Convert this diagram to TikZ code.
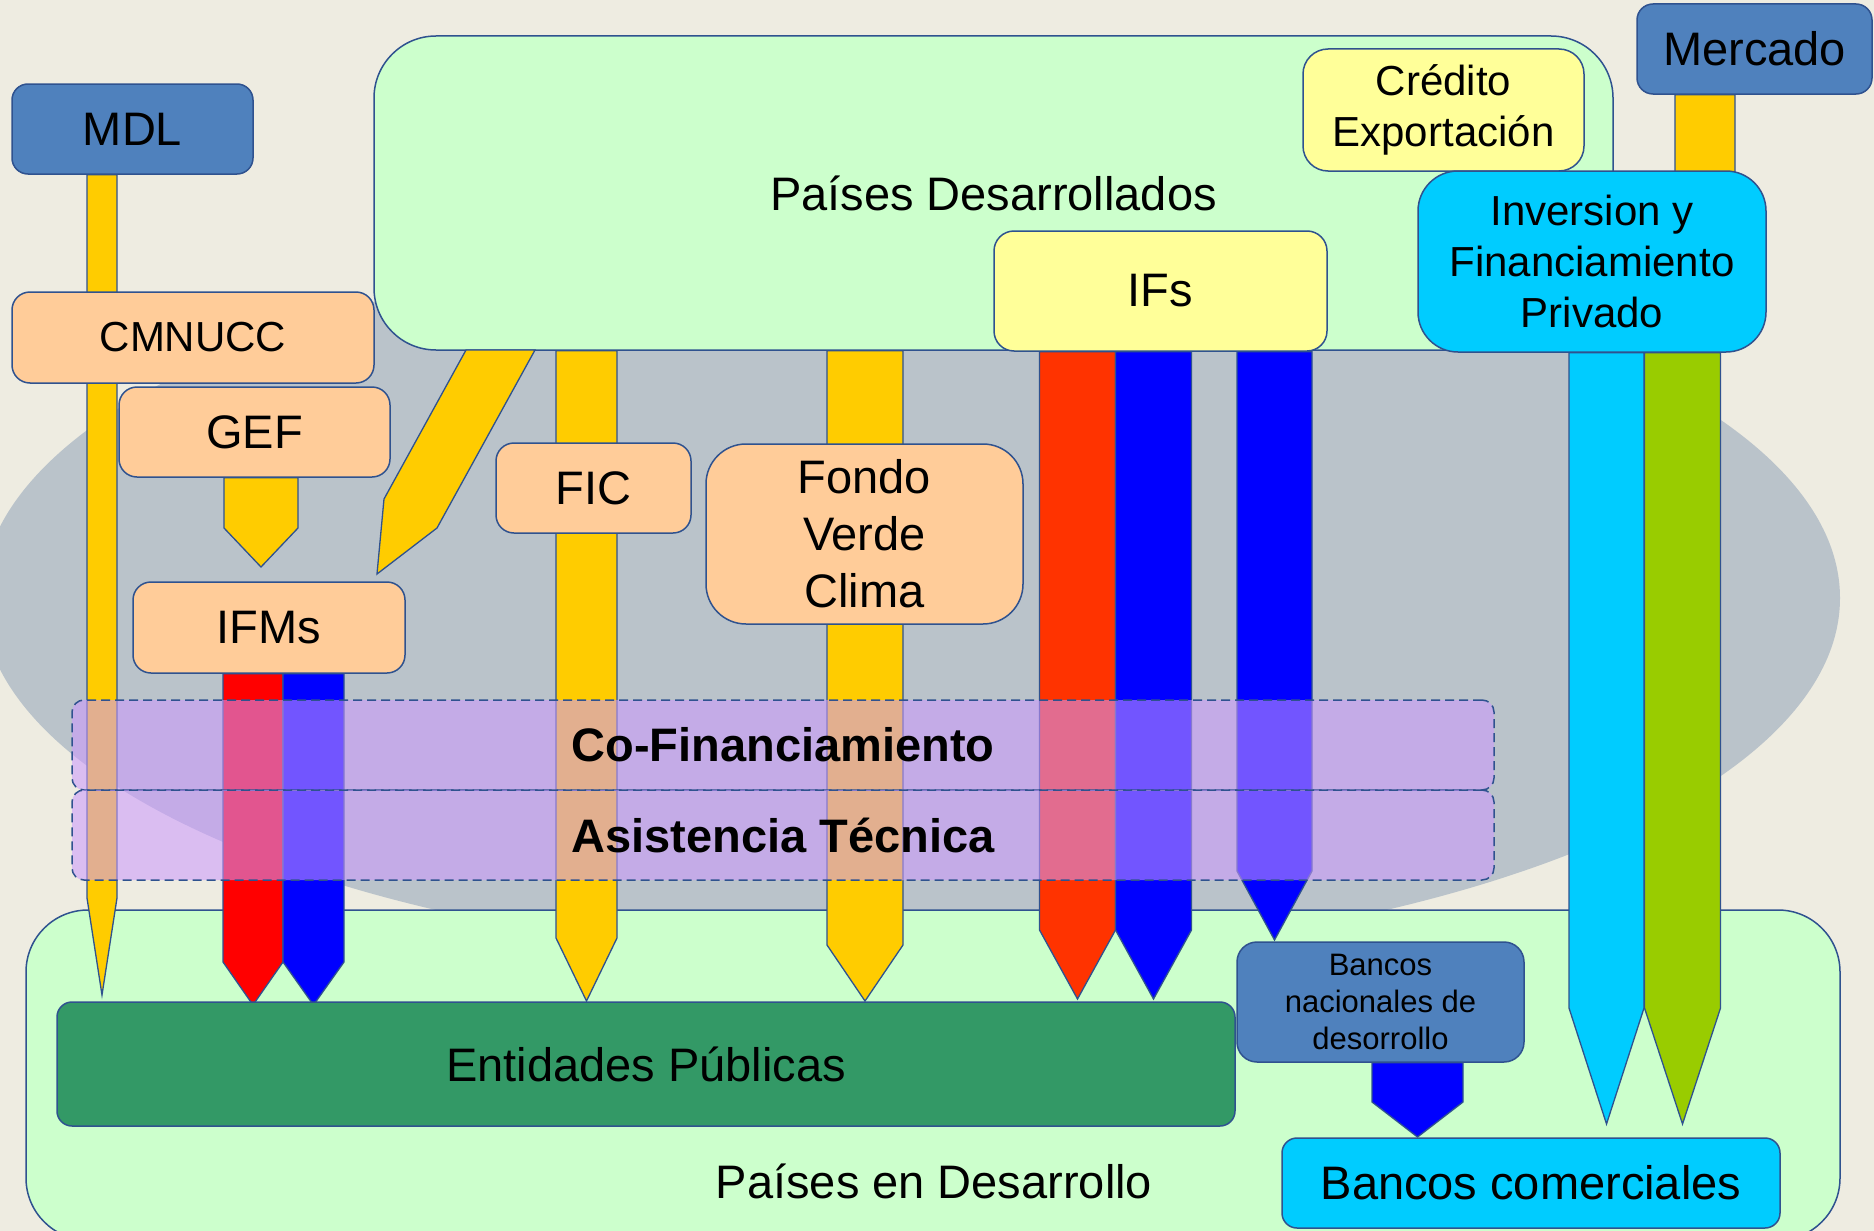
\documentclass[tikz,border=0pt]{standalone}
\usepackage{fontspec}
\setmainfont{Liberation Sans}
\usepackage{tikz}
\usetikzlibrary{shapes.geometric, arrows, positioning, calc, backgrounds}
\usepackage{xcolor}

\definecolor{bgtan}{HTML}{EEECE1}
\definecolor{ovalgrey}{HTML}{BAC3CA}
\definecolor{panelgreen}{HTML}{CCFFCC}
\definecolor{edgeblue}{HTML}{2F528F}
\definecolor{steelblue}{HTML}{4F81BD}
\definecolor{peach}{HTML}{FFCC99}
\definecolor{paleyellow}{HTML}{FFFF99}
\definecolor{skyblue}{HTML}{00CCFF}
\definecolor{flowyellow}{HTML}{FFCC00}
\definecolor{seagreen}{HTML}{339966}
\definecolor{flowred}{HTML}{FF0000}
\definecolor{flowscarlet}{HTML}{FF3300}
\definecolor{flowblue}{HTML}{0000FF}
\definecolor{flowlime}{HTML}{99CC00}
\definecolor{bandviolet}{HTML}{CC99FF}

\tikzstyle{panel} = [rectangle, rounded corners=62pt, draw=edgeblue, line width=1.5pt, fill=panelgreen, inner sep=0pt, font=\fontsize{47}{56}\selectfont]
\tikzstyle{paneltext} = [inner sep=0pt, font=\fontsize{47}{56}\selectfont]
\tikzstyle{box} = [rectangle, rounded corners=16pt, draw=edgeblue, line width=1.5pt, inner sep=0pt, align=center, font=\fontsize{47}{57}\selectfont]
\tikzstyle{midbox} = [box, font=\fontsize{42}{51}\selectfont]
\tikzstyle{smallbox} = [box, font=\fontsize{31}{37}\selectfont]
\tikzstyle{band} = [rectangle, rounded corners=12pt, draw=edgeblue, line width=1.5pt, dash pattern=on 9pt off 5pt, fill=bandviolet, fill opacity=0.56, text opacity=1, inner sep=0pt, font=\fontsize{47}{56}\selectfont\bfseries]
\tikzstyle{flowline} = [draw=edgeblue, line width=1.3pt]

% pencil shaped flow: colour, top centre, tip, half width, head length
\newcommand{\flowarrow}[5]{%
  \filldraw[flowline, fill=#1] ($(#2)+(-#4,0)$) -- ($(#2)+(#4,0)$) -- ($(#3)+(#4,-#5)$) -- (#3) -- ($(#3)+(-#4,-#5)$) -- cycle;}

\pgfdeclarelayer{flows}
\pgfsetlayers{background,flows,main}

\begin{document}
\begin{tikzpicture}[x=1pt, y=-1pt]
\useasboundingbox (0,0) rectangle (1874,1231);

% Sources
\node (mdl) [box, fill=steelblue, minimum width=241pt, minimum height=90pt] at (132.5,129) {MDL};
\node (mercado) [box, fill=steelblue, minimum width=235pt, minimum height=90pt] at (1754.5,49) {Mercado};
\node (credito) [midbox, fill=paleyellow, rounded corners=25pt, minimum width=281pt, minimum height=122pt] at (1443.5,110) {Crédito\\Exportación};
\node (inv) [midbox, fill=skyblue, rounded corners=40pt, minimum width=348pt, minimum height=181pt] at (1592,261.5) {Inversion y\\Financiamiento\\Privado};
\node (ifs) [box, fill=paleyellow, rounded corners=20pt, minimum width=333pt, minimum height=120pt] at (1160.5,291) {IFs};

% Funds
\node (cmnucc) [midbox, fill=peach, rounded corners=18pt, minimum width=362pt, minimum height=91pt] at (193,337.5) {CMNUCC};
\node (gef) [box, fill=peach, rounded corners=18pt, minimum width=271pt, minimum height=90pt] at (254.5,432) {GEF};
\node (ifms) [box, fill=peach, rounded corners=18pt, minimum width=272pt, minimum height=91pt] at (269,627.5) {IFMs};
\node (fic) [box, fill=peach, rounded corners=18pt, minimum width=195pt, minimum height=90pt] at (593.5,488) {FIC};
\node (fvc) [box, fill=peach, rounded corners=40pt, minimum width=317pt, minimum height=180pt] at (864.5,534) {Fondo\\Verde\\Clima};

% Recipients
\node (ent) [box, fill=seagreen, rounded corners=15pt, minimum width=1178pt, minimum height=124pt] at (646,1064) {Entidades Públicas};
\node (bnd) [smallbox, fill=steelblue, rounded corners=20pt, minimum width=287pt, minimum height=120pt] at (1380.5,1002) {Bancos\\nacionales de\\desorrollo};
\node (bcom) [box, fill=skyblue, rounded corners=15pt, minimum width=498pt, minimum height=90pt] at (1531,1183) {Bancos comerciales};

% Panels
\begin{pgfonlayer}{background}
\fill[bgtan] (0,0) rectangle (1874,1231);
\fill[ovalgrey] (911,598) ellipse [x radius=929, y radius=363];
\node (devng) [panel, minimum width=1814pt, minimum height=330pt] at (933,1075) {};
\node (devnglabel) [paneltext] at (934,1181) {Países en Desarrollo};
\node (dev) [panel, minimum width=1239pt, minimum height=314pt] at (993.5,193) {Países Desarrollados};
\end{pgfonlayer}

% Flows
\begin{pgfonlayer}{flows}
\coordinate (mdltip) at (102,995);
\coordinate (geftip) at (261,567);
\coordinate (ifmsredtip) at (253,1005);
\coordinate (ifmsbluetip) at (313.5,1005);
\coordinate (fictip) at (586.5,1001);
\coordinate (fvctip) at (865,1001);
\coordinate (ifsredtip) at (1077.5,999);
\coordinate (ifsbluetip) at (1153.5,999);
\coordinate (bndtop) at (1274.5,940);
\coordinate (cyantip) at (1606.5,1124);
\coordinate (limetip) at (1682.5,1124);
\coordinate (bcomtip) at (1417.5,1137);
\coordinate (invtop) at (1705,200);

\flowarrow{flowyellow}{mdltip |- mdl.south}{mdltip}{15}{97}
\flowarrow{flowyellow}{geftip |- gef.south}{geftip}{37}{39}
\filldraw[flowline, fill=flowyellow] (466,350) -- (535,350) -- (437,528) -- (377,574) -- (384,499) -- cycle;
\flowarrow{flowred}{ifmsredtip |- ifms.south}{ifmsredtip}{30}{43}
\flowarrow{flowblue}{ifmsbluetip |- ifms.south}{ifmsbluetip}{30.5}{43}
\flowarrow{flowyellow}{fictip |- dev.south}{fictip}{30.5}{63}
\flowarrow{flowyellow}{fvctip |- dev.south}{fvctip}{38}{56}
\flowarrow{flowscarlet}{ifsredtip |- ifs.south}{ifsredtip}{38}{69}
\flowarrow{flowblue}{ifsbluetip |- ifs.south}{ifsbluetip}{38}{69}
\flowarrow{flowblue}{bndtop |- ifs.south}{bndtop}{37.5}{69}
\flowarrow{skyblue}{cyantip |- inv.south}{cyantip}{37.5}{116}
\flowarrow{flowlime}{limetip |- inv.south}{limetip}{38}{116}
\flowarrow{flowblue}{bcomtip |- bnd.south}{bcomtip}{45.5}{35}
\flowarrow{flowyellow}{invtop |- mercado.south}{invtop}{30}{20}
\end{pgfonlayer}

% Bands
\node (cofin) [band, minimum width=1422pt, minimum height=90pt] at (783,745) {Co-Financiamiento};
\node (asist) [band, minimum width=1422pt, minimum height=90pt] at (783,835) {Asistencia Técnica};

\end{tikzpicture}
\end{document}
